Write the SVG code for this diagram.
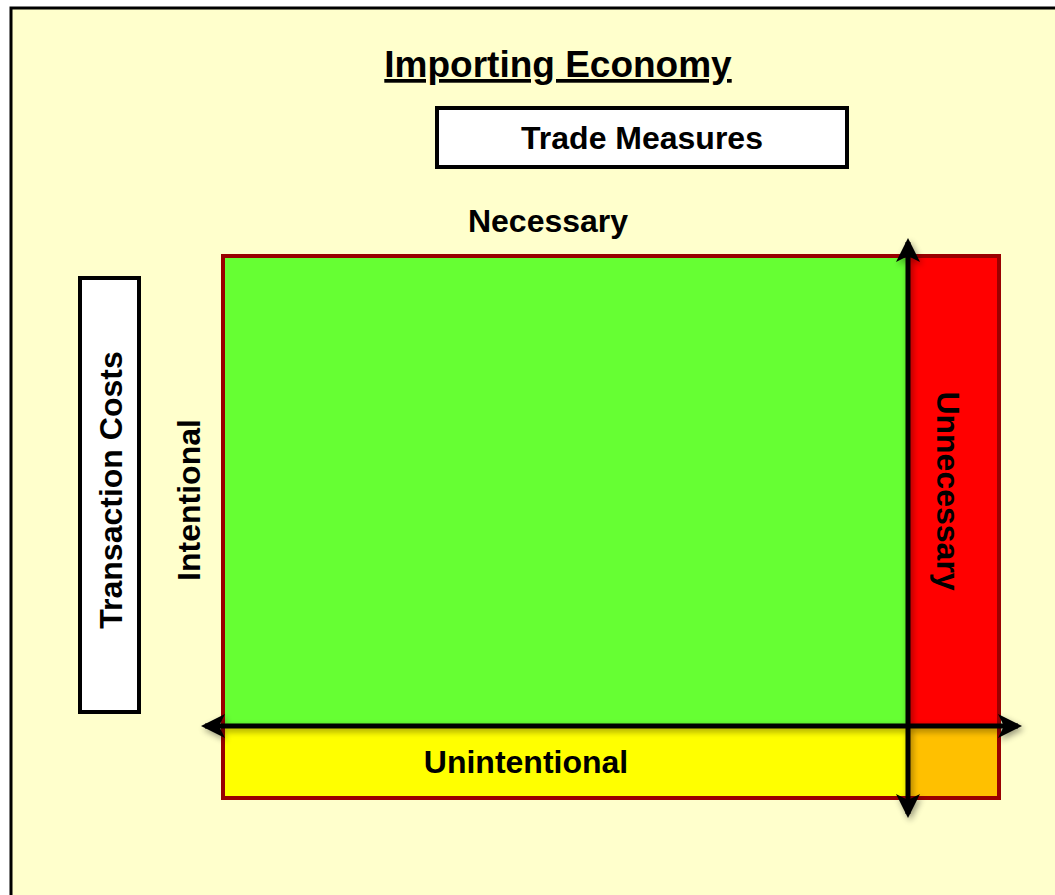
<svg xmlns="http://www.w3.org/2000/svg" width="1055" height="895" viewBox="0 0 1055 895">
<style>
.t{font-family:"Liberation Sans",Arial,sans-serif;font-weight:bold;fill:#000;font-size:32px}
.box{fill:#fff;stroke:#000;stroke-width:4}
.conn{stroke:#000;stroke-width:5;fill:none}
</style>
<defs>
<marker id="ah" viewBox="0 0 24 24" refX="20" refY="12" markerWidth="24" markerHeight="24" markerUnits="userSpaceOnUse" orient="auto-start-reverse">
<path d="M0,0 L24,12 L0,24 L6,12 Z" fill="#000"/>
</marker>
<filter id="sh" x="-20%" y="-20%" width="140%" height="140%">
<feGaussianBlur in="SourceAlpha" stdDeviation="3"/>
<feOffset dx="2" dy="3" result="b"/>
<feComponentTransfer><feFuncA type="linear" slope="0.4"/></feComponentTransfer>
<feMerge><feMergeNode/><feMergeNode in="SourceGraphic"/></feMerge>
</filter>
</defs>
<rect width="1055" height="895" fill="#fff"/>
<rect x="11" y="8" width="1060" height="900" fill="#FFFFCC" stroke="#000" stroke-width="3"/>
<g id="title"><text class="t" x="558" y="77" style="font-size:37px" text-anchor="middle" text-decoration="underline">Importing Economy</text></g>
<g id="trade-measures"><rect class="box" x="437" y="108" width="410" height="59"/><text class="t" x="642" y="149" text-anchor="middle">Trade Measures</text></g>
<g id="transaction-costs"><rect class="box" x="80" y="278" width="59" height="434"/><text class="t" text-anchor="middle" transform="translate(122,490) rotate(-90)">Transaction Costs</text></g>
<g id="matrix">
<rect x="223" y="256" width="685" height="470" fill="#66FF33"/>
<rect x="908" y="256" width="91" height="470" fill="#FF0000"/>
<rect x="223" y="726" width="685" height="72" fill="#FFFF00"/>
<rect x="908" y="726" width="91" height="72" fill="#FFC000"/>
<rect x="223" y="256" width="776" height="542" fill="none" stroke="#990000" stroke-width="4"/>
</g>
<g id="labels">
<text class="t" x="548" y="232" text-anchor="middle">Necessary</text>
<text class="t" text-anchor="middle" transform="translate(200,500) rotate(-90)">Intentional</text>
<text class="t" text-anchor="middle" transform="translate(937,491) rotate(90)">Unnecessary</text>
<text class="t" x="526" y="773" text-anchor="middle">Unintentional</text>
</g>
<g id="connectors" filter="url(#sh)">
<line class="conn" x1="908" y1="242" x2="908" y2="814" marker-start="url(#ah)" marker-end="url(#ah)"/>
<line class="conn" x1="205" y1="726" x2="1018" y2="726" marker-start="url(#ah)" marker-end="url(#ah)"/>
</g>
</svg>
